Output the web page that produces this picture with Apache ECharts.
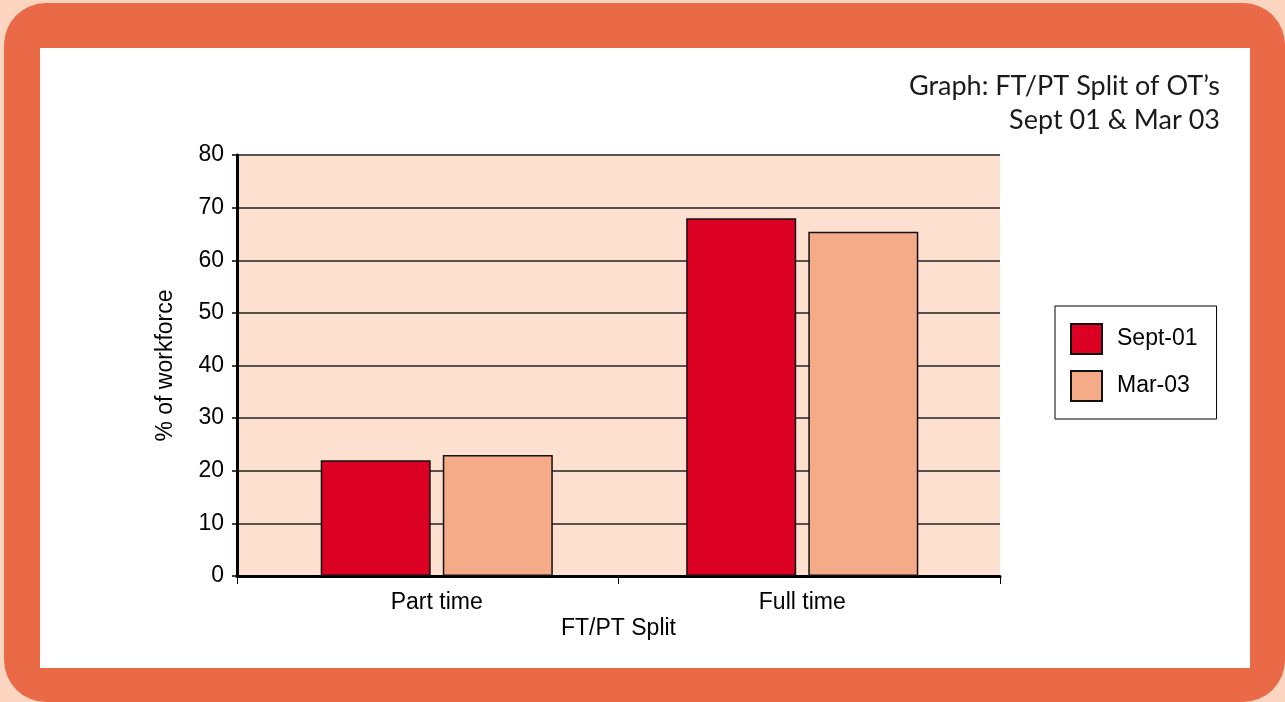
<!DOCTYPE html>
<html>
<head>
<meta charset="utf-8">
<script src="https://cdn.jsdelivr.net/npm/echarts@6/dist/echarts.min.js"></script>
<style>
  html, body { margin:0; padding:0; width:1285px; height:702px; overflow:hidden; background:#fbd5c0; }
  #frame { position:absolute; left:4px; top:3px; width:1281px; height:699px; background:#ea6946; border-radius:42px; }
  #inner { position:absolute; left:40px; top:48px; width:1210px; height:620px; background:#ffffff; }
  #chart { position:absolute; left:0; top:0; width:1285px; height:702px; }
</style>
</head>
<body>
<div id="frame"></div>
<div id="inner"></div>
<div id="chart"></div>
<script>
const categories = ['Part time', 'Full time'];
const seriesNames = ['Sept-01', 'Mar-03'];
const sept01 = [22, 68];
const mar03 = [23, 65.4];
const yTicks = { min: 0, max: 80, interval: 10 };
const titleLines = ['Graph: FT/PT Split of OT\u2019s', 'Sept 01 \u0026 Mar 03'];

const chart = echarts.init(document.getElementById('chart'), null, { renderer: 'canvas' });
const axisFont = '"Liberation Sans", Arial, sans-serif';
const fs = 23;
chart.setOption({
  backgroundColor: 'transparent',
  animation: false,
  graphic: [{
    type: 'text',
    right: 65,
    top: 69,
    style: {
      text: titleLines.join('\n'),
      fill: '#1a1a1a',
      font: '400 27px Lato, "Open Sans", sans-serif',
      textAlign: 'right',
      lineHeight: 34
    }
  }],
  grid: [
    { left: 237, right: 285, top: 155, bottom: 126, show: true, backgroundColor: '#fde0d0', borderWidth: 0 },
    { left: 254, right: 300, top: 155, bottom: 126, show: false }
  ],
  legend: {
    orient: 'vertical',
    left: 1055, top: 306,
    padding: [17, 19, 17, 15],
    itemWidth: 31, itemHeight: 30, itemGap: 15,
    backgroundColor: '#fff', borderColor: '#000', borderWidth: 1,
    icon: 'rect',
    textStyle: { fontSize: fs, color: '#000', fontFamily: axisFont, padding: [0, 0, 0, 10] },
    data: seriesNames
  },
  xAxis: [
    {
      gridIndex: 0,
      type: 'category',
      data: categories,
      name: 'FT/PT Split',
      nameLocation: 'middle',
      nameGap: 41,
      nameTextStyle: { fontSize: fs, color: '#000', fontFamily: axisFont },
      axisLine: { lineStyle: { color: '#000', width: 3 } },
      axisTick: { show: true, length: 8, lineStyle: { color: '#000', width: 1 } },
      axisLabel: { show: false }
    },
    {
      gridIndex: 1,
      type: 'category',
      data: categories,
      axisLine: { show: false },
      axisTick: { show: false },
      axisLabel: { fontSize: fs, color: '#000', fontFamily: axisFont, margin: 15 }
    }
  ],
  yAxis: [
    {
      gridIndex: 0,
      type: 'value',
      min: yTicks.min, max: yTicks.max, interval: yTicks.interval,
      name: '% of workforce',
      nameLocation: 'middle',
      nameGap: 60,
      nameRotate: 90,
      nameTextStyle: { fontSize: fs, color: '#000', fontFamily: axisFont },
      axisLine: { show: true, lineStyle: { color: '#000', width: 3 } },
      axisTick: { show: true, length: 5, lineStyle: { color: '#000', width: 1.5 } },
      axisLabel: { fontSize: fs, color: '#000', fontFamily: axisFont, margin: 13 },
      splitLine: { show: true, lineStyle: { color: '#222', width: 1.5 } }
    },
    {
      gridIndex: 1,
      type: 'value',
      min: yTicks.min, max: yTicks.max, interval: yTicks.interval,
      show: false,
      splitLine: { show: false }
    }
  ],
  series: [
    {
      name: seriesNames[0], type: 'bar', data: sept01,
      xAxisIndex: 1, yAxisIndex: 1,
      barWidth: 110, barGap: '11%',
      itemStyle: { color: '#dc0023', borderColor: '#111', borderWidth: 1.5 }
    },
    {
      name: seriesNames[1], type: 'bar', data: mar03,
      xAxisIndex: 1, yAxisIndex: 1,
      barWidth: 110,
      itemStyle: { color: '#f5ab87', borderColor: '#111', borderWidth: 1.5 }
    }
  ]
});
</script>
</body>
</html>
